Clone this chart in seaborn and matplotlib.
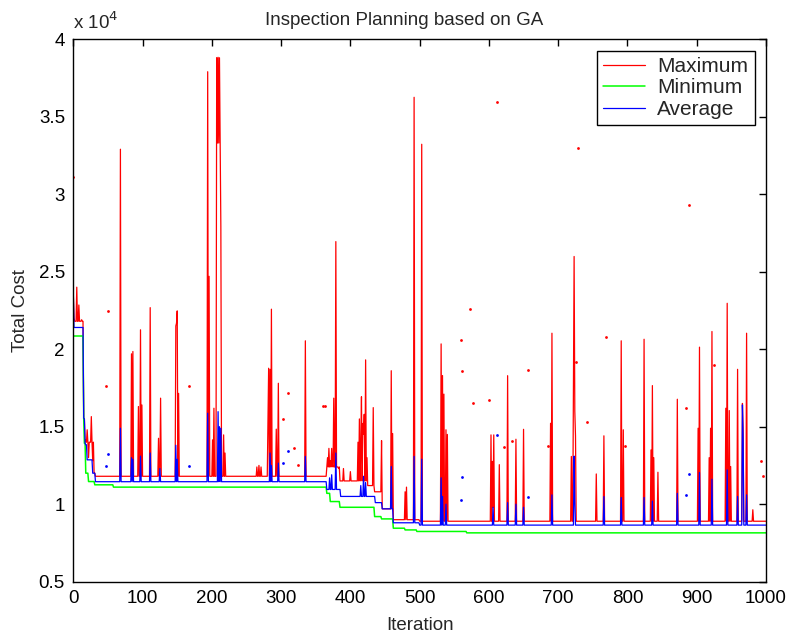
import matplotlib
matplotlib.use("Agg")
import matplotlib.pyplot as plt
from matplotlib.ticker import FuncFormatter, MultipleLocator
import numpy as np
import seaborn as sns

# --- data (iteration, total cost) --------------------------------------------
n_iter = 1000

# minimum cost: a step function (start iteration, value)
min_start = [0, 15, 16, 18, 22, 31, 58, 366, 371, 385, 435, 445, 462, 479, 496, 568]
min_value = [20850, 15550, 13930, 12000, 11460, 11250, 11100, 10700, 10170,
             9800, 9200, 9050, 8450, 8340, 8240, 8150]

# typical (non-spike) level of max / average per stretch
max_base_start = [0, 15, 30, 366, 385, 425, 435, 446, 462, 500]
max_base_value = [21800, 14000, 11800, 12400, 11500, 11200, 10800, 9700, 9000, 8900]
avg_base_start = [0, 15, 17, 20, 28, 32, 366, 386, 436, 446, 462, 500]
avg_base_value = [21400, 15500, 13830, 12860, 12000, 11450, 10950, 10500, 10100,
                  9700, 8800, 8650]

# spikes of the maximum curve
max_spike_iter = [1, 5, 8, 12, 16, 18, 20, 22, 26, 28,
                  68, 84, 85, 86, 94, 97, 99, 111, 123, 126,
                  148, 149, 150, 152, 194, 196, 201, 203, 207, 208,
                  209, 210, 211, 212, 213, 217, 219, 265, 268, 271,
                  281, 282, 284, 286, 293, 296, 335, 367, 369, 371,
                  373, 374, 376, 379, 383, 390, 400, 411, 413, 415,
                  416, 418, 419, 420, 422, 424, 433, 445, 459, 461,
                  479, 481, 492, 503, 531, 533, 535, 538, 540, 603,
                  605, 607, 615, 627, 639, 650, 689, 691, 719, 722,
                  723, 724, 725, 755, 766, 791, 794, 824, 834, 836,
                  838, 844, 872, 902, 904, 918, 920, 922, 942, 944,
                  947, 949, 959, 966, 967, 972, 981]
max_spike_value = [22000, 24000, 22850, 21900, 14000, 14150, 14800, 13000, 15650, 12800,
                   32900, 19700, 12500, 19850, 16300, 21250, 16400, 22680, 14250, 16840,
                   21500, 21680, 22470, 17150, 37900, 24700, 14150, 16190, 38800, 33300,
                   38830, 33300, 38800, 33280, 27900, 14470, 13300, 12400, 12500, 12400,
                   15440, 18770, 18700, 22580, 14840, 17800, 20540, 13000, 13600, 12800,
                   13600, 12500, 16840, 26940, 12300, 12300, 12100, 14000, 15500, 13800,
                   16930, 15210, 14500, 15800, 19310, 13000, 16230, 14100, 18610, 14560,
                   10800, 11100, 36250, 33220, 20340, 18300, 17100, 14800, 14500, 14470,
                   12760, 14470, 12550, 18290, 14190, 14830, 15220, 21030, 13080, 17000,
                   25980, 16000, 14400, 11950, 14410, 20540, 14800, 20640, 13500, 17650,
                   13000, 12060, 16770, 14900, 20130, 13000, 14900, 21140, 16190, 22960,
                   16040, 12430, 18700, 16500, 14800, 21030, 9640]

# spikes of the average curve
avg_spike_iter = [0, 68, 84, 86, 97, 111, 125, 148, 150, 194,
                  209, 211, 213, 284, 286, 296, 335, 370, 373, 379,
                  415, 419, 422, 459, 492, 503, 531, 533, 538, 606,
                  627, 639, 650, 691, 723, 724, 766, 791, 824, 836,
                  872, 904, 922, 944, 959, 966, 967, 972]
avg_spike_value = [23600, 14900, 13000, 12900, 13100, 13300, 12300, 13800, 12900, 15870,
                   15970, 15000, 14900, 13300, 12500, 12650, 13080, 11700, 11900, 13300,
                   11200, 11800, 11400, 12430, 13080, 12900, 11700, 10500, 10000, 9800,
                   10100, 10000, 9800, 10600, 13100, 10200, 10490, 10430, 10430, 10200,
                   10700, 12040, 11610, 12210, 10500, 16400, 14250, 10600]

# isolated points that show up only as dots in the reference
max_dot_iter = [0, 47, 50, 167, 303, 310, 319, 325, 361, 363, 559,
                561, 572, 577, 600, 612, 622, 634, 657, 685, 726,
                729, 741, 769, 796, 884, 889, 925, 993, 995]
max_dot_value = [31100, 17650, 22470, 17650, 15500, 17150, 13610, 12530, 16340, 16340, 20600,
                 18600, 22600, 16520, 16720, 35930, 13680, 14080, 18660, 13760, 19160,
                 32960, 15290, 20810, 13760, 16230, 29300, 18990, 12760, 11850]
avg_dot_iter = [47, 50, 167, 303, 310, 559, 561, 612, 657, 884, 889]
avg_dot_value = [12470, 13250, 12470, 12650, 13450, 10300, 11740, 14470, 10450, 10600, 11930]


def step_series(starts, values, it):
    idx = np.searchsorted(starts, it, side="right") - 1
    return np.asarray(values, dtype=float)[idx]


iters = np.arange(n_iter + 1)
min_cost = step_series(min_start, min_value, iters)
avg_cost = step_series(avg_base_start, avg_base_value, iters)
avg_cost[avg_spike_iter] = avg_spike_value
avg_cost = np.maximum(avg_cost, min_cost)
max_cost = step_series(max_base_start, max_base_value, iters)
max_cost[max_spike_iter] = max_spike_value
max_cost = np.maximum(max_cost, avg_cost)

# --- plot ---------------------------------------------------------------------
sns.set_style("white")
plt.rcParams["font.family"] = ["Liberation Sans", "DejaVu Sans"]
FS = 13.5

fig = plt.figure(figsize=(7.9, 6.39), dpi=100)
ax = fig.add_axes([0.0928, 0.0897, 0.8768, 0.849])

sns.lineplot(x=iters, y=max_cost, color="#ff0000", lw=0.9, label="Maximum", ax=ax)
sns.lineplot(x=iters, y=min_cost, color="#00ff00", lw=1.1, label="Minimum", ax=ax)
sns.lineplot(x=iters, y=avg_cost, color="#0000ff", lw=0.9, label="Average", ax=ax)
sns.scatterplot(x=max_dot_iter, y=max_dot_value, color="#ff0000", s=4,
                linewidth=0, legend=False, ax=ax)
sns.scatterplot(x=avg_dot_iter, y=avg_dot_value, color="#0000ff", s=4,
                linewidth=0, legend=False, ax=ax)

ax.set_xlim(0, 1000)
ax.set_ylim(5000, 40000)
ax.xaxis.set_major_locator(MultipleLocator(100))
ax.yaxis.set_major_locator(MultipleLocator(5000))
ax.yaxis.set_major_formatter(FuncFormatter(lambda v, p: f"{v / 1e4:g}"))
ax.tick_params(direction="in", top=True, right=True, length=5, width=1,
               labelsize=FS, pad=6, colors="black")
for sp in ax.spines.values():
    sp.set_color("black")
    sp.set_linewidth(1)

ax.text(0.0, 1.012, "x 10$^4$", transform=ax.transAxes, fontsize=FS,
        ha="left", va="bottom")
ax.set_title("Inspection Planning based on GA", fontsize=FS, pad=10, x=0.477)
ax.set_xlabel("Iteration", fontsize=FS, labelpad=7)
ax.set_ylabel("Total Cost", fontsize=FS, labelpad=7)

leg = ax.legend(loc="upper right", fontsize=15, fancybox=False, framealpha=1,
                edgecolor="black", borderaxespad=0.55, handlelength=2.0,
                handletextpad=0.6, labelspacing=0.12, borderpad=0.3)
leg.get_frame().set_linewidth(1)

fig.savefig("out.png", dpi=100)
